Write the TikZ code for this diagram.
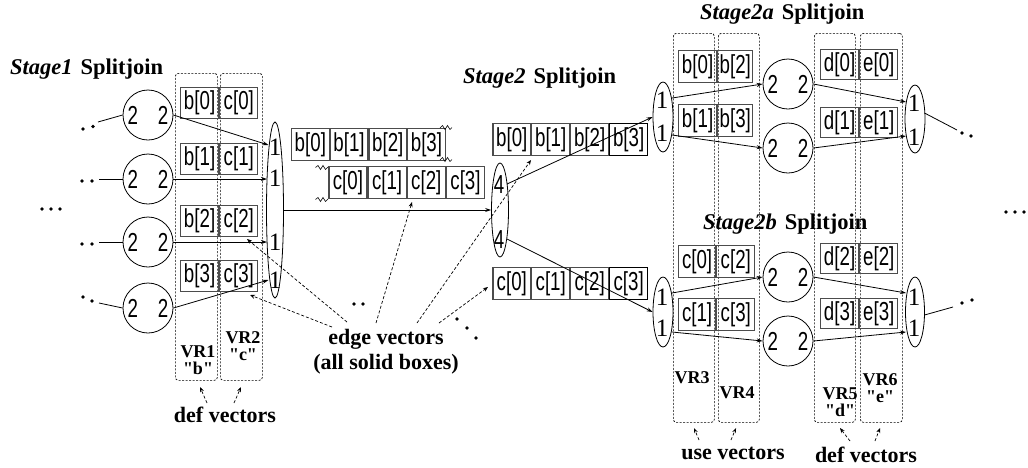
\documentclass[tikz,border=0pt]{standalone}
\usepackage{fontspec}
\setmainfont{Liberation Serif}[Ligatures=TeXOff]
\newfontfamily\labfont[FakeStretch=0.72]{Liberation Sans}
\usetikzlibrary{arrows.meta,shapes.geometric}
\tikzset{
  lab/.style={font=\labfont\fontsize{26}{26}\selectfont},
  cell/.style={lab, draw=black!70, line width=1.2pt, minimum height=31pt, minimum width=38pt, inner sep=0pt, anchor=north west},
  filt/.style={lab, circle, draw, line width=0.8pt, minimum size=50pt, inner sep=0pt},
  joiner/.style={ellipse, draw, line width=0.8pt, inner sep=0pt},
  num/.style={font=\fontsize{25}{25}\selectfont, inner sep=0pt},
  four/.style={lab, inner sep=0pt},
  vrbox/.style={draw, line width=0.7pt, dash pattern=on 2pt off 1.5pt, rounded corners=3pt, inner sep=0pt, anchor=north west},
  conn/.style={line width=0.8pt, -{Stealth[length=6pt,width=4pt]}},
  ptr/.style={line width=0.7pt, dash pattern=on 3pt off 2pt, -{Stealth[length=5pt,width=4pt]}},
  head/.style={font=\bfseries\fontsize{22.5}{24}\selectfont, inner sep=0pt, anchor=west},
  vrlab/.style={font=\bfseries\fontsize{18}{17}\selectfont, inner sep=0pt, align=center},
  note/.style={font=\bfseries\fontsize{22}{25}\selectfont, inner sep=0pt, align=center},
}
\newcommand{\bigdot}[2]{\fill (#1,#2) circle (1.9);}
\begin{document}
\begin{tikzpicture}[x=1pt,y=-1pt]
\useasboundingbox (0,0) rectangle (1028,467);

% ---------------- headings ----------------
\node[head] (h1) at (10,69) {\textit{Stage1}\hspace{8pt}Splitjoin};
\node[head] (h2) at (463,78) {\textit{Stage2}\hspace{8pt}Splitjoin};
\node[head] (h2a) at (700,14) {\textit{Stage2a}\hspace{8pt}Splitjoin};
\node[head] (h2b) at (703,224) {\textit{Stage2b}\hspace{8pt}Splitjoin};

% ---------------- vector register columns ----------------
\node[vrbox, minimum width=42pt, minimum height=307pt] (VR1) at (175,73) {};
\node[vrbox, minimum width=42pt, minimum height=307pt] (VR2) at (220,73) {};
\node[vrbox, minimum width=41pt, minimum height=389pt] (VR3) at (673,33) {};
\node[vrbox, minimum width=41pt, minimum height=389pt] (VR4) at (718,33) {};
\node[vrbox, minimum width=41pt, minimum height=389pt] (VR5) at (814,33) {};
\node[vrbox, minimum width=42pt, minimum height=389pt] (VR6) at (860,33) {};

\node[vrlab] (lvr1) at (198,360) {VR1\\"b"};
\node[vrlab] (lvr2) at (243,346) {VR2\\"c"};
\node[vrlab] (lvr3) at (692,378) {VR3};
\node[vrlab] (lvr4) at (737,393) {VR4};
\node[vrlab] (lvr5) at (840,402) {VR5\\"d"};
\node[vrlab] (lvr6) at (880,388) {VR6\\"e"};

% ---------------- stage 1 ----------------
\node[filt] (c1) at (148,115) {2\hspace{20pt}2};
\node[filt] (c2) at (148,179) {2\hspace{20pt}2};
\node[filt] (c3) at (148,242) {2\hspace{20pt}2};
\node[filt] (c4) at (148,308) {2\hspace{20pt}2};

\node[cell] (b0) at (180,87) {b[0]};
\node[cell] (cc0) at (b0.north east) {c[0]};
\node[cell] (b1) at (180,143) {b[1]};
\node[cell] (cc1) at (b1.north east) {c[1]};
\node[cell] (b2) at (180,205) {b[2]};
\node[cell] (cc2) at (b2.north east) {c[2]};
\node[cell] (b3) at (180,260) {b[3]};
\node[cell] (cc3) at (b3.north east) {c[3]};

\node[joiner, minimum width=17pt, minimum height=176pt] (J1) at (275,210) {};
\node[num] (j1n1) at (275,147) {1};
\node[num] (j1n2) at (275,178) {1};
\node[num] (j1n3) at (275,242) {1};
\node[num] (j1n4) at (275,280) {1};
\coordinate (j1a) at (268.5,145);
\coordinate (j1b) at (267,179);
\coordinate (j1c) at (267,242);
\coordinate (j1d) at (268.5,280);

\draw[conn] (c1.east) -- (j1a);
\draw[conn] (c2.east) -- (j1b);
\draw[conn] (c3.east) -- (j1c);
\draw[conn] (c4.east) -- (j1d);

% incoming streams
\coordinate (i1) at (98,122);
\coordinate (i2) at (99,179);
\coordinate (i3) at (99,242);
\coordinate (i4) at (99,303);
\draw[line width=0.8pt] (i1) -- (c1.west);
\draw[line width=0.8pt] (i2) -- (c2.west);
\draw[line width=0.8pt] (i3) -- (c3.west);
\draw[line width=0.8pt] (i4) -- (c4.west);
\bigdot{83}{129}\bigdot{93}{126.5}
\bigdot{82}{181}\bigdot{92}{181}
\bigdot{82}{244}\bigdot{92}{244}
\bigdot{83}{297}\bigdot{92}{301}
\bigdot{42}{209}\bigdot{51}{209}\bigdot{60}{209}

% ---------------- edge vectors between stage 1 and stage 2 ----------------
\node[cell, minimum height=32pt, minimum width=37.5pt] (eb0) at (291,128) {b[0]};
\node[cell, minimum height=32pt, minimum width=37.5pt] (eb1) at (eb0.north east) {b[1]};
\node[cell, minimum height=32pt, minimum width=37.5pt] (eb2) at (eb1.north east) {b[2]};
\node[cell, minimum height=32pt, minimum width=37.5pt] (eb3) at (eb2.north east) {b[3]};
\node[cell, minimum height=32pt] (ec0) at (328.3,166) {c[0]};
\node[cell, minimum height=32pt] (ec1) at (ec0.north east) {c[1]};
\node[cell, minimum height=32pt] (ec2) at (ec1.north east) {c[2]};
\node[cell, minimum height=32pt] (ec3) at (ec2.north east) {c[3]};

% torn ends of the vectors
\draw[line width=0.6pt] (440,128) -- ++(2.5,-2.5) -- ++(2.5,4) -- ++(2.5,-4) -- ++(2.5,4) -- ++(2,-2);
\draw[line width=0.6pt] (440,160) -- ++(2.5,-2.5) -- ++(2.5,4) -- ++(2.5,-4) -- ++(2.5,4) -- ++(2,-2);
\draw[line width=0.6pt] (328,167) -- ++(-2.5,2.5) -- ++(-2.5,-4) -- ++(-2.5,4) -- ++(-2.5,-4) -- ++(-2.5,2);
\draw[line width=0.6pt] (328,199) -- ++(-2.5,2.5) -- ++(-2.5,-4) -- ++(-2.5,4) -- ++(-2.5,-4) -- ++(-2.5,2);

% ---------------- stage 2 ----------------
\node[joiner, minimum width=17pt, minimum height=94pt] (S2) at (500,210) {};
\node[four] (s2n1) at (499,185) {4};
\node[four] (s2n2) at (499,240) {4};
\coordinate (s2o1) at (507,184);
\coordinate (s2o2) at (507,239);

\draw[conn] (J1.east) -- (S2.west);

\node[cell, minimum height=32pt, minimum width=37.75pt] (sb0) at (492.3,123) {b[0]};
\node[cell, minimum height=32pt, minimum width=37.75pt] (sb1) at (sb0.north east) {b[1]};
\node[cell, minimum height=32pt, minimum width=37.75pt] (sb2) at (sb1.north east) {b[2]};
\node[cell, minimum height=32pt, minimum width=37.75pt, draw=black] (sb3) at (sb2.north east) {b[3]};
\node[cell, minimum height=32pt, minimum width=37.75pt] (sc0) at (492.3,267) {c[0]};
\node[cell, minimum height=32pt, minimum width=37.75pt] (sc1) at (sc0.north east) {c[1]};
\node[cell, minimum height=32pt, minimum width=37.75pt] (sc2) at (sc1.north east) {c[2]};
\node[cell, minimum height=32pt, minimum width=37.75pt, draw=black] (sc3) at (sc2.north east) {c[3]};

% ---------------- stage 2a ----------------
\node[joiner, minimum width=20pt, minimum height=70pt] (L2a) at (663,117) {};
\node[num] (l2an1) at (662,100) {1};
\node[num] (l2an2) at (662,133) {1};
\node[cell, minimum height=32pt] (ab0) at (678,50) {b[0]};
\node[cell, minimum height=32pt, minimum width=35pt] (ab2) at (ab0.north east) {b[2]};
\node[cell, minimum height=32pt] (ab1) at (678,104) {b[1]};
\node[cell, minimum height=32pt, minimum width=35pt] (ab3) at (ab1.north east) {b[3]};
\node[filt] (A1) at (788,84) {2\hspace{20pt}2};
\node[filt] (A2) at (788,148) {2\hspace{20pt}2};
\node[cell, minimum height=30pt] (ad0) at (820,49) {d[0]};
\node[cell, minimum height=30pt] (ae0) at (ad0.north east) {e[0]};
\node[cell, minimum height=30pt] (ad1) at (820,107) {d[1]};
\node[cell, minimum height=30pt] (ae1) at (ad1.north east) {e[1]};
\node[joiner, minimum width=20pt, minimum height=68pt] (R2a) at (915,119) {};
\node[num] (r2an1) at (914,103) {1};
\node[num] (r2an2) at (914,137) {1};

\coordinate (l2a1) at (672,98);
\coordinate (l2a2) at (672,135);
\coordinate (r2a1) at (906,102);
\coordinate (r2a2) at (906,136);
\coordinate (r2a0) at (924.5,113);
\coordinate (oa) at (957,130);

\draw[conn] (s2o1) -- (L2a.west);
\draw[conn] (l2a1) -- (A1.west);
\draw[conn] (l2a2) -- (A2.west);
\draw[conn] (A1.east) -- (r2a1);
\draw[conn] (A2.east) -- (r2a2);
\draw[line width=0.8pt] (r2a0) -- (oa);
\bigdot{962}{133}\bigdot{971}{136}

% ---------------- stage 2b ----------------
\node[joiner, minimum width=20pt, minimum height=70pt] (L2b) at (663,312) {};
\node[num] (l2bn1) at (662,297) {1};
\node[num] (l2bn2) at (662,328) {1};
\node[cell, minimum height=32pt, minimum width=37pt] (bc0) at (678,245) {c[0]};
\node[cell, minimum height=32pt] (bc2) at (bc0.north east) {c[2]};
\node[cell, minimum height=32pt, minimum width=37pt] (bc1) at (678,298) {c[1]};
\node[cell, minimum height=32pt] (bc3) at (bc1.north east) {c[3]};
\node[filt] (B1) at (788,277) {2\hspace{20pt}2};
\node[filt] (B2) at (788,341) {2\hspace{20pt}2};
\node[cell, minimum height=30pt] (bd2) at (820,243) {d[2]};
\node[cell, minimum height=30pt] (be2) at (bd2.north east) {e[2]};
\node[cell, minimum height=30pt] (bd3) at (820,298) {d[3]};
\node[cell, minimum height=30pt] (be3) at (bd3.north east) {e[3]};
\node[joiner, minimum width=19pt, minimum height=70pt] (R2b) at (915,312) {};
\node[num] (r2bn1) at (914,297) {1};
\node[num] (r2bn2) at (914,328) {1};

\coordinate (l2b1) at (672,293);
\coordinate (l2b2) at (672,332);
\coordinate (r2b1) at (906,293);
\coordinate (r2b2) at (906,332);
\coordinate (r2b0) at (924.5,315);
\coordinate (ob) at (953,307);

\draw[conn] (s2o2) -- (L2b.west);
\draw[conn] (l2b1) -- (B1.west);
\draw[conn] (l2b2) -- (B2.west);
\draw[conn] (B1.east) -- (r2b1);
\draw[conn] (B2.east) -- (r2b2);
\draw[line width=0.8pt] (r2b0) -- (ob);
\bigdot{962}{303}\bigdot{972}{300}

\bigdot{1006}{212}\bigdot{1015}{212}\bigdot{1024}{212}

% continuation dots below the vectors
\bigdot{354}{304}\bigdot{363}{304}
\bigdot{457}{319}\bigdot{467}{328}\bigdot{476}{338}

% ---------------- annotations ----------------
\node[note] (edgev) at (386,352) {edge vectors\\(all solid boxes)};
\coordinate (e1s) at (347,322); \coordinate (e1t) at (247,239);
\coordinate (e2s) at (332,327); \coordinate (e2t) at (250,295);
\coordinate (e3s) at (376,323); \coordinate (e3t) at (412,202);
\coordinate (e4s) at (417,323); \coordinate (e4t) at (531,160);
\coordinate (e5s) at (439,323); \coordinate (e5t) at (488,287);
\draw[ptr] (e1s) -- (e1t);
\draw[ptr] (e2s) -- (e2t);
\draw[ptr] (e3s) -- (e3t);
\draw[ptr] (e4s) -- (e4t);
\draw[ptr] (e5s) -- (e5t);

\node[note] (def1) at (225,415) {def vectors};
\coordinate (d1s) at (207,403); \coordinate (d1t) at (200,387);
\coordinate (d2s) at (234,403); \coordinate (d2t) at (241,387);
\draw[ptr] (d1s) -- (d1t);
\draw[ptr] (d2s) -- (d2t);

\node[note] (usev) at (733,453) {use vectors};
\coordinate (u1s) at (699,440); \coordinate (u1t) at (694,428);
\coordinate (u2s) at (731,440); \coordinate (u2t) at (736,428);
\draw[ptr] (u1s) -- (u1t);
\draw[ptr] (u2s) -- (u2t);

\node[note] (def2) at (866,455) {def vectors};
\coordinate (f1s) at (850,441); \coordinate (f1t) at (840,428);
\coordinate (f2s) at (875,441); \coordinate (f2t) at (880,428);
\draw[ptr] (f1s) -- (f1t);
\draw[ptr] (f2s) -- (f2t);
\end{tikzpicture}
\end{document}
